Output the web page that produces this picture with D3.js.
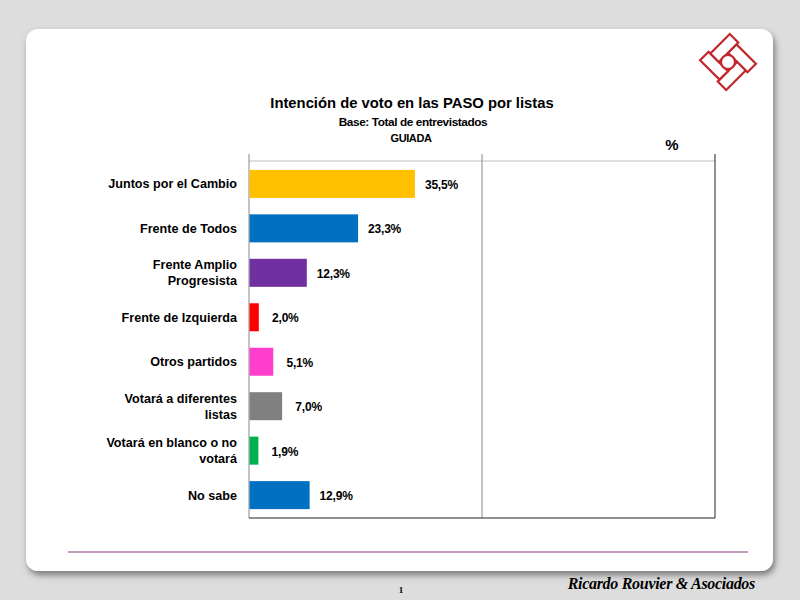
<!DOCTYPE html>
<html>
<head>
<meta charset="utf-8">
<script src="https://cdn.jsdelivr.net/npm/d3@7"></script>
<style>
  body { margin: 0; background: #dddddd; }
  svg { display: block; }
</style>
</head>
<body>
<div id="chart"></div>
<script>
// datos
var categories = [
    ["Juntos por el Cambio"],
    ["Frente de Todos"],
    ["Frente Amplio", "Progresista"],
    ["Frente de Izquierda"],
    ["Otros partidos"],
    ["Votará a diferentes", "listas"],
    ["Votará en blanco o no", "votará"],
    ["No sabe"]
];
var values = [35.5, 23.3, 12.3, 2.0, 5.1, 7.0, 1.9, 12.9];
var barColors = ["#FFC000", "#0070C0", "#7030A0", "#FF0000", "#FF3FCB", "#808080", "#00B050", "#0070C0"];
var gridTicks = [0, 50, 100];

var margin = {top: 161, right: 85, bottom: 82, left: 249};
var width = 800 - margin.left - margin.right;
var height = 600 - margin.top - margin.bottom;

var svg = d3.select("#chart")
    .append("svg")
    .attr("width", 800)
    .attr("height", 600);

var defs = svg.append("defs");
var shadow = defs.append("filter")
    .attr("id", "shadow")
    .attr("x", "-5%").attr("y", "-5%")
    .attr("width", "112%").attr("height", "115%");
shadow.append("feDropShadow")
    .attr("dx", 2).attr("dy", 4)
    .attr("stdDeviation", 3)
    .attr("flood-color", "#444")
    .attr("flood-opacity", 0.65);

// tarjeta blanca
svg.append("rect")
    .attr("x", 26).attr("y", 29)
    .attr("width", 747).attr("height", 542)
    .attr("rx", 12)
    .attr("fill", "#fff")
    .attr("filter", "url(#shadow)");

// logo (molinete de cuatro rectangulos con un circulo)
var logo = svg.append("g")
    .attr("transform", "translate(728,62) rotate(45)")
    .attr("fill", "#fff")
    .attr("stroke", "#C0282D")
    .attr("stroke-width", 2.2);
var lw = 12, lc = 13, ls = 2.5, ll = lc + lw + ls;
[
    [-lc / 2, -lc / 2 - lw, ll, lw],
    [lc / 2, -lc / 2, lw, ll],
    [lc / 2 - ll, lc / 2, ll, lw],
    [-lc / 2 - lw, lc / 2 - ll, lw, ll]
].forEach(function(r) {
    logo.append("rect")
        .attr("x", r[0]).attr("y", r[1])
        .attr("width", r[2]).attr("height", r[3]);
});
logo.append("circle").attr("r", lc / 2 + 0.5);

var g = svg.append("g")
    .attr("transform", "translate(" + margin.left + "," + margin.top + ")");

var x_scale = d3.scaleLinear()
    .domain([0, 100])
    .range([0, width]);

var y_scale = d3.scaleBand()
    .domain(d3.range(values.length))
    .range([0, height])
    .paddingInner(0.37)
    .paddingOuter(0.2);

// lineas de grilla
g.append("line")
    .attr("x1", 0).attr("x2", width)
    .attr("y1", 0).attr("y2", 0)
    .attr("stroke", "#bfbfbf");

g.selectAll(".grid")
    .data(gridTicks)
    .enter()
    .append("line")
    .attr("class", "grid")
    .attr("x1", function(d) { return x_scale(d); })
    .attr("x2", function(d) { return x_scale(d); })
    .attr("y1", -7)
    .attr("y2", height)
    .attr("stroke", function(d, i) { return i === 2 ? "#222" : "#888"; })
    .attr("stroke-width", 1);

g.append("line")
    .attr("x1", 0).attr("x2", width)
    .attr("y1", height).attr("y2", height)
    .attr("stroke", "#222");

// barras
g.selectAll(".bar")
    .data(values)
    .enter()
    .append("rect")
    .attr("class", "bar")
    .attr("x", x_scale(0) + 0.5)
    .attr("y", function(d, i) { return y_scale(i); })
    .attr("width", function(d) { return x_scale(d) - x_scale(0); })
    .attr("height", y_scale.bandwidth())
    .attr("fill", function(d, i) { return barColors[i]; });

// etiquetas de valor
g.selectAll(".value")
    .data(values)
    .enter()
    .append("text")
    .attr("class", "value")
    .attr("x", function(d) { return x_scale(d) + 27; })
    .attr("y", function(d, i) { return y_scale(i) + y_scale.bandwidth() / 2; })
    .attr("dy", "0.42em")
    .attr("text-anchor", "middle")
    .style("font", "bold 12px 'Liberation Sans', Arial, sans-serif")
    .style("letter-spacing", "-0.2px")
    .text(function(d) { return d.toFixed(1).replace(".", ",") + "%"; });

// etiquetas de categoria
var cat = g.selectAll(".cat")
    .data(categories)
    .enter()
    .append("text")
    .attr("class", "cat")
    .attr("text-anchor", "end")
    .style("font", "bold 12.6px 'Liberation Sans', Arial, sans-serif")
    .attr("transform", function(d, i) {
        return "translate(-12," + (y_scale(i) + y_scale.bandwidth() / 2) + ")";
    });

cat.selectAll("tspan")
    .data(function(d) { return d; })
    .enter()
    .append("tspan")
    .attr("x", 0)
    .attr("y", function(d, i, nodes) {
        var n = nodes.length;
        return (i - (n - 1) / 2) * 16;
    })
    .attr("dy", "0.35em")
    .text(function(d) { return d; });

// titulos
svg.append("text")
    .attr("x", 412).attr("y", 108)
    .attr("text-anchor", "middle")
    .style("font", "bold 14.8px 'Liberation Sans', Arial, sans-serif")
    .text("Intención de voto en las PASO por listas");

svg.append("text")
    .attr("x", 413).attr("y", 126)
    .attr("text-anchor", "middle")
    .style("font", "bold 11.8px 'Liberation Sans', Arial, sans-serif")
    .style("letter-spacing", "-0.4px")
    .text("Base: Total de entrevistados");

svg.append("text")
    .attr("x", 411).attr("y", 142)
    .attr("text-anchor", "middle")
    .style("font", "bold 11px 'Liberation Sans', Arial, sans-serif")
    .style("letter-spacing", "-0.4px")
    .text("GUIADA");

svg.append("text")
    .attr("x", 672).attr("y", 150)
    .attr("text-anchor", "middle")
    .style("font", "bold 15px 'Liberation Sans', Arial, sans-serif")
    .text("%");

// pie
svg.append("line")
    .attr("x1", 68).attr("x2", 748)
    .attr("y1", 552).attr("y2", 552)
    .attr("stroke", "#B07AA1")
    .attr("stroke-width", 1.5);

svg.append("text")
    .attr("x", 401).attr("y", 593)
    .attr("text-anchor", "middle")
    .style("font", "bold 9px 'Liberation Serif', serif")
    .text("1");

svg.append("text")
    .attr("x", 755).attr("y", 589)
    .attr("text-anchor", "end")
    .style("font", "italic bold 16px 'Liberation Serif', serif")
    .style("letter-spacing", "-0.3px")
    .text("Ricardo Rouvier & Asociados");
</script>
</body>
</html>
